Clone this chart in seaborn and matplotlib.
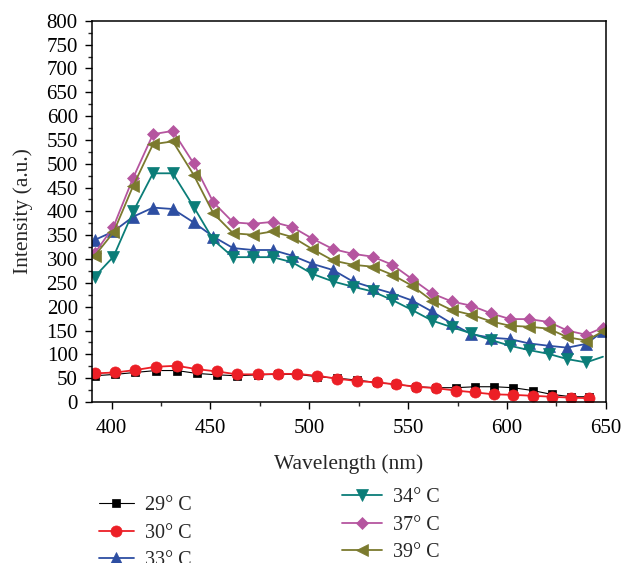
import matplotlib
matplotlib.use("Agg")
import matplotlib.pyplot as plt
from matplotlib.ticker import MultipleLocator
import seaborn as sns

# wavelengths (nm) of the 29/30 degC markers
wl_low = [391.5, 402, 412, 422.5, 433, 443, 453.5, 463.5, 474, 484, 494, 504, 514,
          524, 534, 544, 554, 564, 574, 584, 593.5, 603, 613, 622.5, 632.5, 641.5]
# wavelengths (nm) of the 33-39 degC markers
wl_high = [391.5, 401, 411, 421, 431, 441.5, 451.5, 461.5, 471.5, 481.5, 491.5, 501.5, 512,
           522, 532, 542, 552, 562, 572, 582, 592, 601.5, 611, 621, 630.5, 640, 648.5]

t29 = [55, 58, 62, 66, 66, 60, 57, 55, 57, 58, 58, 53, 50,
       46, 41, 37, 32, 30, 30, 32, 32, 30, 24, 16, 11, 11]
t30 = [60, 62, 67, 74, 76, 69, 64, 58, 58, 59, 59, 55, 49,
       44, 41, 37, 32, 29, 24, 20, 16, 15, 13, 11, 9, 8]
t33 = [340, 358, 389, 408, 405, 377, 347, 323, 319, 319, 307, 290, 277,
       253, 240, 228, 213, 190, 165, 142, 135, 132, 123, 118, 114, 122, 148]
t34 = [263, 305, 400, 480, 480, 410, 340, 304, 304, 304, 293, 269, 253,
       242, 232, 214, 193, 171, 157, 144, 130, 118, 109, 101, 90, 83, 95]
t37 = [312, 368, 471, 562, 569, 501, 419, 377, 374, 378, 367, 343, 321,
       311, 305, 288, 258, 228, 211, 202, 186, 174, 174, 168, 150, 141, 156]
t39 = [307, 356, 454, 541, 547, 477, 396, 354, 351, 358, 346, 321, 297,
       288, 284, 267, 244, 213, 193, 183, 169, 160, 158, 154, 136, 129, 148]

labels = ["29° C", "30° C", "33° C", "34° C", "37° C", "39° C"]

sns.set_style("ticks")
plt.rcParams["font.family"] = ["Liberation Serif", "DejaVu Serif"]

fig = plt.figure(figsize=(6.24, 5.63), dpi=100)
ax = fig.add_axes([0.147, 0.286, 0.824, 0.677])

series = [
    (wl_low, t29, "black", "s", 6.0, 0.8),
    (wl_low, t30, "#ec1f26", "o", 8.0, 1.3),
    (wl_high, t33, "#2d4ea2", "^", 8.5, 1.3),
    (wl_high, t34, "#0b7d78", "v", 8.5, 1.3),
    (wl_high, t37, "#b5559f", "D", 6.5, 1.3),
    (wl_high, t39, "#7b7a2e", "<", 8.5, 1.3),
]

for (x, y, col, mk, ms, lw), lab in zip(series, labels):
    # 34 degC: last point only carries the line to the frame
    every = list(range(len(x) - 1)) if lab.startswith("34") else None
    sns.lineplot(x=x, y=y, ax=ax, color=col, marker=mk, markersize=ms,
                 markeredgecolor=col, markeredgewidth=0.5, linewidth=lw,
                 markevery=every, label=lab)

handles, labs = ax.get_legend_handles_labels()
ax.get_legend().remove()

ax.set_xlim(390, 650)
ax.set_ylim(0, 800)
ax.xaxis.set_major_locator(MultipleLocator(50))
ax.xaxis.set_minor_locator(MultipleLocator(25))
ax.yaxis.set_major_locator(MultipleLocator(50))
ax.yaxis.set_minor_locator(MultipleLocator(25))
ax.tick_params(which="major", direction="out", length=5, width=1, labelsize=15,
               colors="black", top=False, right=False)
ax.tick_params(axis="y", which="major", pad=5)
ax.tick_params(axis="x", which="major", pad=7)
ax.tick_params(which="minor", direction="out", length=3, width=1, top=False, right=False)
for s in ax.spines.values():
    s.set_visible(True)
    s.set_linewidth(1.1)
    s.set_color("black")

ax.set_xlabel("Wavelength (nm)", fontsize=15.5, labelpad=12)
ax.set_ylabel("Intensity (a.u.)", fontsize=15.5, labelpad=10)

leg1 = fig.legend(handles[:3], labs[:3], loc="upper left", bbox_to_anchor=(0.158, 0.119),
                  frameon=False, fontsize=14.5, handlelength=1.75,
                  handletextpad=0.55, labelspacing=0.42,
                  borderpad=0, borderaxespad=0, numpoints=1)
leg2 = fig.legend(handles[3:], labs[3:], loc="upper left", bbox_to_anchor=(0.548, 0.133),
                  frameon=False, fontsize=14.5, handlelength=2.0,
                  handletextpad=0.55, labelspacing=0.42,
                  borderpad=0, borderaxespad=0, numpoints=1)

fig.savefig("out.png", dpi=100)
